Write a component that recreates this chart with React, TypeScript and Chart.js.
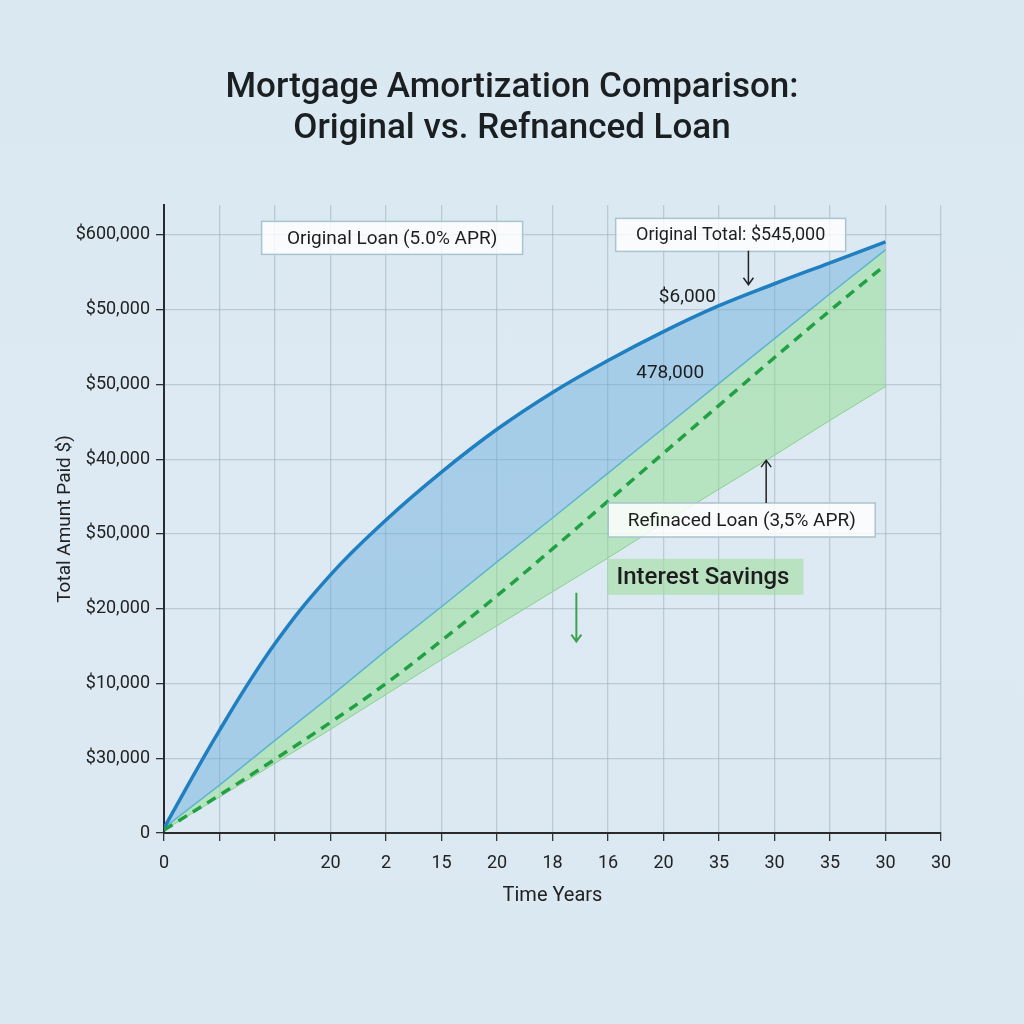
import { useEffect, useRef } from 'react';
import Chart from 'chart.js/auto';

// x positions of the data points (one per tick) and the odd tick captions shown on the axis
const POINT_X = [0, 1, 2, 3, 4, 5, 6, 7, 8, 9, 10, 11, 12, 13];
const X_TICK_LABELS = ['0', '', '', '20', '2', '15', '20', '18', '16', '20', '35', '30', '35', '30', '30'];

const Y_TICK_VALUES = [0, 75000, 150000, 225000, 300000, 375000, 450000, 525000, 600000];
const Y_TICK_LABELS = ['0', '$30,000', '$10,000', '$20,000', '$50,000', '$40,000', '$50,000', '$50,000', '$600,000'];

// cumulative amounts
const originalLoan = [5000, 103000, 190000, 259000, 314000, 362000, 405000, 442000, 474000, 503000, 529000, 551000, 572000, 593000];
const refinancedUpper = [5000, 48000, 93000, 137000, 183000, 227000, 272000, 316000, 361000, 406000, 451000, 496000, 541000, 585000];
const refinancedLoan = [3000, 38000, 74000, 111000, 150000, 193000, 238000, 285000, 333000, 381000, 429000, 477000, 524000, 570000];
const refinancedLower = [3000, 36000, 70000, 104000, 139000, 174000, 208000, 242000, 276000, 311000, 345000, 379000, 414000, 448000];

const TITLE_LINES = ['Mortgage Amortization Comparison:', 'Original vs. Refnanced Loan'];

interface Note {
  text: string;
  x: number;
  y: number;
  w?: number;
  h?: number;
  size: number;
  bold?: boolean;
  fill?: string;
  stroke?: string;
  align?: 'left' | 'center';
}

const notes: Note[] = [
  { text: 'Original Loan (5.0% APR)', x: 4.11, y: 597000, w: 261, h: 33, size: 19, fill: 'rgba(255,255,255,0.82)', stroke: '#a9c3cf' },
  { text: 'Original Total: $545,000', x: 10.21, y: 600000, w: 230, h: 33, size: 18, fill: 'rgba(255,255,255,0.82)', stroke: '#a9c3cf' },
  { text: '$6,000', x: 9.43, y: 538000, size: 19 },
  { text: '478,000', x: 9.12, y: 462500, size: 19 },
  { text: 'Refinaced Loan (3,5% APR)', x: 10.41, y: 314000, w: 267, h: 34, size: 19, fill: 'rgba(255,255,255,0.82)', stroke: '#a9c3cf' },
  { text: 'Interest Savings', x: 9.755, y: 257000, w: 196, h: 36, size: 24, bold: true, fill: 'rgba(160,220,160,0.6)', align: 'left' }
];

const arrows = [
  { x: 10.53, from: 584000, to: 550000, color: '#222', width: 1.5 },
  { x: 10.85, from: 331000, to: 374000, color: '#222', width: 1.5 },
  { x: 7.43, from: 241000, to: 192000, color: '#3ba34d', width: 2 }
];

const FONT = 'Roboto, "Noto Sans", sans-serif';

const annotate = {
  id: 'annotate',
  afterDatasetsDraw(chart: any) {
    const { ctx, scales } = chart;
    const xs = scales.x;
    const ys = scales.y;
    ctx.save();
    ctx.textBaseline = 'middle';

    for (const n of notes) {
      const cx = xs.getPixelForValue(n.x);
      const cy = ys.getPixelForValue(n.y);
      if (n.w && n.h) {
        ctx.fillStyle = n.fill || 'white';
        ctx.fillRect(cx - n.w / 2, cy - n.h / 2, n.w, n.h);
        if (n.stroke) {
          ctx.strokeStyle = n.stroke;
          ctx.lineWidth = 1.5;
          ctx.strokeRect(cx - n.w / 2, cy - n.h / 2, n.w, n.h);
        }
      }
      ctx.fillStyle = '#1d1d1d';
      ctx.font = `${n.bold ? 500 : 400} ${n.size}px ${FONT}`;
      if (n.align === 'left' && n.w) {
        ctx.textAlign = 'left';
        ctx.fillText(n.text, cx - n.w / 2 + 9, cy + 1);
      } else {
        ctx.textAlign = 'center';
        ctx.fillText(n.text, cx, cy + 1);
      }
    }

    for (const a of arrows) {
      const x = xs.getPixelForValue(a.x);
      const y0 = ys.getPixelForValue(a.from);
      const y1 = ys.getPixelForValue(a.to);
      const dir = y1 > y0 ? 1 : -1;
      ctx.strokeStyle = a.color;
      ctx.lineWidth = a.width;
      ctx.beginPath();
      ctx.moveTo(x, y0);
      ctx.lineTo(x, y1);
      ctx.moveTo(x - 5, y1 - dir * 7);
      ctx.lineTo(x, y1);
      ctx.lineTo(x + 5, y1 - dir * 7);
      ctx.stroke();
    }

    // title
    ctx.fillStyle = '#1b1f22';
    ctx.textAlign = 'center';
    ctx.font = `500 35px ${FONT}`;
    TITLE_LINES.forEach((line, i) => ctx.fillText(line, 512, 88 + i * 41));
    ctx.restore();
  }
};

export default function App() {
  const ref = useRef<HTMLCanvasElement | null>(null);

  useEffect(() => {
    if (!ref.current) return;
    const toPoints = (values: number[]) => values.map((v, i) => ({ x: POINT_X[i], y: v }));
    const chart = new Chart(ref.current, {
      type: 'line',
      data: {
        datasets: [
          {
            label: 'Original Loan (5.0% APR)',
            data: toPoints(originalLoan),
            borderColor: '#1f7fc0',
            backgroundColor: 'rgba(100,170,220,0.45)',
            borderWidth: 3.5,
            tension: 0.4,
            pointRadius: 0,
            fill: '+1'
          },
          {
            label: 'Refinanced upper',
            data: toPoints(refinancedUpper),
            borderColor: '#5cb6cc',
            backgroundColor: 'rgba(150,220,150,0.55)',
            borderWidth: 1.5,
            pointRadius: 0,
            fill: '+1'
          },
          {
            label: 'Refinanced lower',
            data: toPoints(refinancedLower),
            borderColor: 'rgba(125,200,125,0.9)',
            borderWidth: 1,
            pointRadius: 0,
            fill: false
          },
          {
            label: 'Refinanced Loan (3.5% APR)',
            data: toPoints(refinancedLoan),
            borderColor: '#22a044',
            borderWidth: 3.5,
            borderDash: [10, 7],
            tension: 0.4,
            pointRadius: 0,
            fill: false,
            order: -1
          }
        ]
      },
      options: {
        animation: false,
        responsive: true,
        maintainAspectRatio: false,
        layout: { padding: { left: 0, right: 83, top: 205, bottom: 111 } },
        plugins: {
          legend: { display: false },
          tooltip: { enabled: false },
          title: { display: false }
        },
        scales: {
          x: {
            type: 'linear',
            min: 0,
            max: 14,
            afterBuildTicks: (scale: any) => {
              scale.ticks = X_TICK_LABELS.map((_, i) => ({ value: i }));
            },
            afterFit: (scale: any) => {
              scale.height = 80;
            },
            ticks: {
              autoSkip: false,
              maxRotation: 0,
              padding: 12,
              color: '#222',
              font: { family: FONT, size: 18 },
              callback: (_v: any, i: number) => X_TICK_LABELS[i]
            },
            grid: { color: 'rgba(150,172,182,0.5)', lineWidth: 1.3, tickLength: 8, tickColor: '#333' },
            border: { color: '#2a2a2a', width: 2 },
            title: {
              display: true,
              text: 'Time Years',
              color: '#222',
              font: { family: FONT, size: 20 },
              padding: { top: 0, bottom: 5 }
            }
          },
          y: {
            min: 0,
            max: 630000,
            afterBuildTicks: (scale: any) => {
              scale.ticks = Y_TICK_VALUES.map((value) => ({ value }));
            },
            afterFit: (scale: any) => {
              scale.width = 164;
            },
            ticks: {
              padding: 6,
              color: '#222',
              font: { family: FONT, size: 18 },
              callback: (v: any) => Y_TICK_LABELS[Y_TICK_VALUES.indexOf(Number(v))]
            },
            grid: { color: 'rgba(150,172,182,0.5)', lineWidth: 1.3, tickLength: 8, tickColor: '#333' },
            border: { color: '#2a2a2a', width: 2 },
            title: {
              display: true,
              text: 'Total Amunt Paid $)',
              color: '#222',
              font: { family: FONT, size: 19 },
              padding: { top: 54, bottom: 0 }
            }
          }
        }
      },
      plugins: [annotate]
    });
    return () => chart.destroy();
  }, []);

  return (
    <div
      style={{
        position: 'fixed',
        left: 0,
        top: 0,
        width: 1024,
        height: 1024,
        background: 'linear-gradient(180deg, #d9e8f1 0%, #deeaf3 50%, #dae8f1 100%)'
      }}
    >
      <canvas ref={ref} aria-label="Mortgage amortization comparison chart" />
    </div>
  );
}
